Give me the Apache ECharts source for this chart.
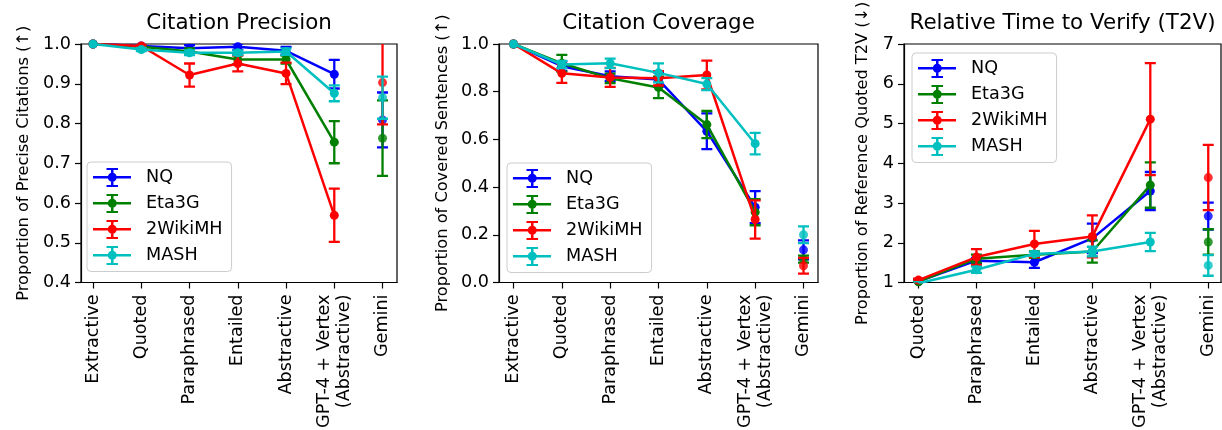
<!DOCTYPE html>
<html>
<head>
<meta charset="utf-8">
<script src="https://cdn.jsdelivr.net/npm/echarts@6/dist/echarts.min.js"></script>
<style>html,body{margin:0;padding:0;background:#fff}#c{width:1222px;height:430px}</style>
</head>
<body>
<div id="c"></div>
<script>
// ---------- data ----------
const datasets = ['NQ', 'Eta3G', '2WikiMH', 'MASH'];
const colors = ['#0000ff', '#008000', '#ff0000', '#00bfbf'];

const catsA = ['Extractive', 'Quoted', 'Paraphrased', 'Entailed', 'Abstractive', 'GPT-4 + Vertex\n(Abstractive)', 'Gemini'];
const catsB = ['Quoted', 'Paraphrased', 'Entailed', 'Abstractive', 'GPT-4 + Vertex\n(Abstractive)', 'Gemini'];

// Citation Precision
const precNQ      = [1.0, 0.995, 0.989, 0.993, 0.983, 0.924, 0.809];
const precNQErr   = [0, 0.004, 0.008, 0.008, 0.010, 0.036, 0.069];
const precEta     = [1.0, 0.993, 0.981, 0.961, 0.961, 0.753, 0.763];
const precEtaErr  = [0, 0.004, 0.008, 0.012, 0.010, 0.053, 0.095];
const precWiki    = [1.0, 0.995, 0.922, 0.951, 0.926, 0.569, 0.903];
const precWikiErr = [0, 0.004, 0.029, 0.020, 0.027, 0.067, 0.105];
const precMash    = [1.0, 0.986, 0.978, 0.978, 0.981, 0.876, 0.865];
const precMashErr = [0, 0.004, 0.006, 0.006, 0.008, 0.020, 0.053];

// Citation Coverage
const covNQ      = [1.0, 0.907, 0.865, 0.851, 0.634, 0.316, 0.137];
const covNQErr   = [0, 0.020, 0.020, 0.030, 0.075, 0.067, 0.040];
const covEta     = [1.0, 0.919, 0.856, 0.818, 0.662, 0.295, 0.098];
const covEtaErr  = [0, 0.035, 0.020, 0.045, 0.057, 0.055, 0.015];
const covWiki    = [1.0, 0.877, 0.860, 0.856, 0.870, 0.264, 0.070];
const covWikiErr = [0, 0.040, 0.040, 0.030, 0.060, 0.080, 0.033];
const covMash    = [1.0, 0.914, 0.919, 0.879, 0.832, 0.582, 0.200];
const covMashErr = [0, 0.015, 0.020, 0.040, 0.025, 0.045, 0.035];

// Relative Time to Verify
const t2vNQ      = [1.03, 1.55, 1.51, 2.11, 3.30, 2.67];
const t2vNQErr   = [0.03, 0.07, 0.14, 0.37, 0.48, 0.34];
const t2vEta     = [1.02, 1.60, 1.70, 1.78, 3.45, 2.02];
const t2vEtaErr  = [0.03, 0.10, 0.08, 0.28, 0.57, 0.32];
const t2vWiki    = [1.06, 1.64, 1.97, 2.16, 5.11, 3.64];
const t2vWikiErr = [0.04, 0.20, 0.33, 0.53, 1.41, 0.82];
const t2vMash    = [0.98, 1.32, 1.72, 1.78, 2.02, 1.43];
const t2vMashErr = [0.03, 0.08, 0.05, 0.12, 0.23, 0.26];

const precTicks = [0.4, 0.5, 0.6, 0.7, 0.8, 0.9, 1.0];
const covTicks  = [0.0, 0.2, 0.4, 0.6, 0.8, 1.0];
const t2vTicks  = [1, 2, 3, 4, 5, 6, 7];

// ---------- build ----------
const FONT = 'DejaVu Sans';
const FS = 17.6;
const NAME_FS = 16.2;
const panels = [
  {title: 'Citation Precision', yname: 'Proportion of Precise Citations (\u2191)', cats: catsA,
   vals: [precNQ, precEta, precWiki, precMash], errs: [precNQErr, precEtaErr, precWikiErr, precMashErr],
   ticks: precTicks, dec: 1, left: 81, width: 316, xmin: -0.25, xmax: 6.3, nameGap: 49,
   legend: {left: 87, top: 162}},
  {title: 'Citation Coverage', yname: 'Proportion of Covered Sentences (\u2191)', cats: catsA,
   vals: [covNQ, covEta, covWiki, covMash], errs: [covNQErr, covEtaErr, covWikiErr, covMashErr],
   ticks: covTicks, dec: 1, left: 499, width: 319, xmin: -0.3, xmax: 6.3, nameGap: 48,
   legend: {left: 507, top: 163}},
  {title: 'Relative Time to Verify (T2V)', yname: 'Proportion of Reference Quoted T2V (\u2193)', cats: catsB,
   vals: [t2vNQ, t2vEta, t2vWiki, t2vMash], errs: [t2vNQErr, t2vEtaErr, t2vWikiErr, t2vMashErr],
   ticks: t2vTicks, dec: 0, left: 904, width: 317, xmin: -0.25, xmax: 5.22, nameGap: 33,
   legend: {left: 912, top: 53}}
];

const TOP = 44, HEIGHT = 238.5;
const grids = [], xAxes = [], yAxes = [], series = [], titles = [], legends = [];
const legendIcon = 'path://M0 8H38V10.5H0Z M18 1H20.5V18H18Z M13.5 0H25V2H13.5Z M13.5 17H25V19H13.5Z M14.75 9.25A4.5 4.5 0 1 1 23.75 9.25A4.5 4.5 0 1 1 14.75 9.25Z';

panels.forEach((p, pi) => {
  grids.push({left: p.left, top: TOP, width: p.width, height: HEIGHT, show: true,
    borderColor: '#000', borderWidth: 1.2, backgroundColor: 'transparent', containLabel: false,
    outerBoundsMode: 'none'});
  const idx = p.cats.map((c, i) => i);
  xAxes.push({type: 'value', gridIndex: pi, min: p.xmin, max: p.xmax,
    axisLine: {show: true, onZero: false, lineStyle: {color: '#000', width: 1.2}},
    axisTick: {show: true, customValues: idx, length: 6, lineStyle: {color: '#000', width: 1.2}},
    axisLabel: {show: true, customValues: idx, rotate: 90, margin: 12, color: '#000',
      fontFamily: FONT, fontSize: FS, lineHeight: 20,
      formatter: v => p.cats[Math.round(v)] || ''},
    splitLine: {show: false}});
  const tmin = p.ticks[0], tmax = p.ticks[p.ticks.length - 1];
  yAxes.push({type: 'value', gridIndex: pi, min: tmin, max: tmax,
    name: p.yname, nameLocation: 'middle', nameRotate: 90, nameGap: p.nameGap,
    nameTextStyle: {fontFamily: FONT, fontSize: NAME_FS, color: '#000'},
    axisLine: {show: true, onZero: false, lineStyle: {color: '#000', width: 1.2}},
    axisTick: {show: true, customValues: p.ticks, length: 6, lineStyle: {color: '#000', width: 1.2}},
    axisLabel: {show: true, customValues: p.ticks, margin: 10, color: '#000', fontFamily: FONT, fontSize: FS,
      formatter: v => Number(v).toFixed(p.dec)},
    splitLine: {show: false}});
  titles.push({text: p.title, left: p.left + p.width / 2, top: 13, textAlign: 'center', padding: 0,
    textStyle: {fontFamily: FONT, fontSize: 21.4, fontWeight: 'normal', color: '#000'}});
  legends.push({show: true, orient: 'vertical', left: p.legend.left, top: p.legend.top,
    data: datasets.map(d => ({name: d, icon: legendIcon})),
    itemWidth: 38, itemHeight: 19, itemGap: 7, padding: [6, 9, 6.5, 6],
    backgroundColor: 'rgba(255,255,255,0.8)', borderColor: '#cccccc', borderWidth: 1, borderRadius: 4,
    selectedMode: false,
    textStyle: {fontFamily: FONT, fontSize: FS, color: '#000', padding: [0, 0, 0, 10]}});

  datasets.forEach((d, di) => {
    const vals = p.vals[di], errs = p.errs[di], color = colors[di];
    const n = vals.length;
    const errData = [];
    vals.forEach((v, i) => { if (errs[i] > 0) errData.push([i, v - errs[i], v + errs[i]]); });
    series.push({type: 'custom', name: d, xAxisIndex: pi, yAxisIndex: pi, clip: true,
      encode: {x: 0, y: [1, 2]}, data: errData, z: 2 + di, silent: true,
      itemStyle: {color: color},
      renderItem: (params, api) => {
        const x = api.value(0), lo = api.value(1), hi = api.value(2);
        const a = api.coord([x, lo]), b = api.coord([x, hi]);
        const w = 5.5, st = {stroke: color, lineWidth: 2.3};
        return {type: 'group', children: [
          {type: 'line', shape: {x1: a[0], y1: a[1], x2: b[0], y2: b[1]}, style: st},
          {type: 'line', shape: {x1: a[0] - w, y1: a[1], x2: a[0] + w, y2: a[1]}, style: st},
          {type: 'line', shape: {x1: b[0] - w, y1: b[1], x2: b[0] + w, y2: b[1]}, style: st}
        ]};
      }});
    series.push({type: 'line', name: d, xAxisIndex: pi, yAxisIndex: pi, clip: true,
      data: vals.slice(0, n - 1).map((v, i) => [i, v]),
      symbol: 'circle', symbolSize: 9, showSymbol: true, z: 2 + di,
      lineStyle: {color: color, width: 2.5}, itemStyle: {color: color}, silent: true});
    series.push({type: 'scatter', name: d, xAxisIndex: pi, yAxisIndex: pi, clip: true,
      data: [[n - 1, vals[n - 1]]], symbol: 'circle', symbolSize: 9, z: 2 + di,
      itemStyle: {color: color}, silent: true});
  });
});

const chart = echarts.init(document.getElementById('c'), null, {renderer: 'canvas'});
chart.setOption({
  animation: false, backgroundColor: '#fff',
  title: titles, legend: legends, grid: grids, xAxis: xAxes, yAxis: yAxes, series: series
});
</script>
</body>
</html>
